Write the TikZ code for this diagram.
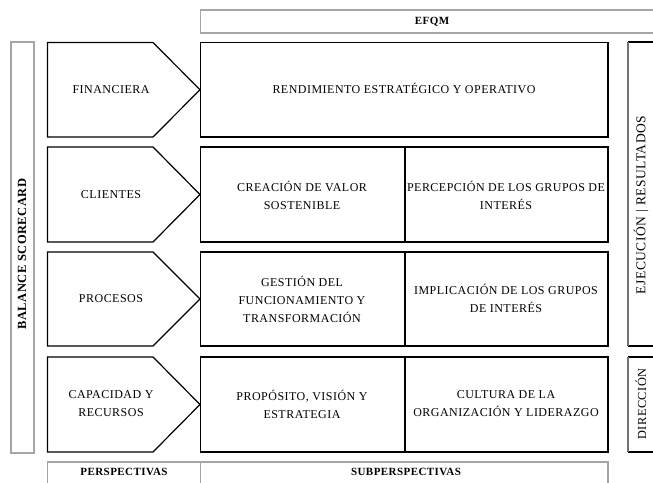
\documentclass[tikz,border=0pt]{standalone}
\usepackage{fontspec}
\setmainfont{Liberation Serif}[LetterSpace=4]
\begin{document}
\begin{tikzpicture}[x=1pt,y=-1pt,
  box/.style={draw=black,line width=1.6pt},
  arr/.style={draw=black,line width=1.2pt,line join=miter},
  gbox/.style={draw=black!35,line width=1.1pt},
  txt/.style={font=\fontsize{12}{18}\selectfont,align=center,inner sep=0pt},
  btxt/.style={font=\fontsize{11}{13}\selectfont\bfseries,align=center,inner sep=0pt},
  rtxt/.style={font=\fontsize{12.3}{14}\selectfont,rotate=90,inner sep=0pt}]
\useasboundingbox (0,0) rectangle (653,482);
\clip (0,0) rectangle (653,482);
% gray frames
\draw[gbox] (11,42) rectangle (34,453);
\draw[gbox] (200.5,10) rectangle (680,33);
\draw[gbox] (47.5,462) rectangle (200.5,500);
\draw[gbox] (200.5,462) rectangle (608,500);
% right column
\draw[line width=1.1pt] (628,42) -- (680,42);
\draw[line width=1.1pt] (628,346) -- (680,346);
\draw[black!55,line width=1.1pt] (628,42) -- (628,346);
\draw[line width=1.1pt] (628,357) -- (680,357);
\draw[line width=1.1pt] (628,452) -- (680,452);
\draw[black!55,line width=1.1pt] (628,357) -- (628,452);
% arrows
\foreach \t/\b in {42.5/137, 147/242, 252/346, 357/452}{
  \path[arr] (47.5,\t) -- (153,\t) -- (200,{(\t+\b)/2}) -- (153,\b) -- (47.5,\b) -- cycle;
}
% main boxes
\draw[box] (200.5,42.5) rectangle (608,137);
\draw[box] (200.5,147) rectangle (608,242);
\draw[box] (200.5,252) rectangle (608,346);
\draw[box] (200.5,357) rectangle (608,452);
\draw[box] (405,147) -- (405,242);
\draw[box] (405,252) -- (405,346);
\draw[box] (405,357) -- (405,452);
% texts
\node[btxt] (efqm) at (432,22) {EFQM};
\node[btxt] (persp) at (124,472) {PERSPECTIVAS};
\node[btxt] (subpersp) at (406,472) {SUBPERSPECTIVAS};
\node[btxt,font=\fontsize{12.5}{14}\selectfont\bfseries,rotate=90] (bsc) at (22,254) {BALANCE SCORECARD};
\node[rtxt,font=\fontsize{13.5}{14}\selectfont] (ejec) at (641,205) {EJECUCIÓN | RESULTADOS};
\node[rtxt] (dir) at (641,404) {DIRECCIÓN};
\node[txt] (fin) at (111,90) {FINANCIERA};
\node[txt] (cli) at (111,195) {CLIENTES};
\node[txt] (pro) at (111,299) {PROCESOS};
\node[txt] (cap) at (111,404) {CAPACIDAD Y\\RECURSOS};
\node[txt] (rend) at (404,88) {RENDIMIENTO ESTRATÉGICO Y OPERATIVO};
\node[txt] (crea) at (302,195) {CREACIÓN DE VALOR\\SOSTENIBLE};
\node[txt] (perc) at (506,195) {PERCEPCIÓN DE LOS GRUPOS DE\\INTERÉS};
\node[txt] (gest) at (302,299) {GESTIÓN DEL\\FUNCIONAMIENTO Y\\TRANSFORMACIÓN};
\node[txt] (impl) at (506,298) {IMPLICACIÓN DE LOS GRUPOS\\DE INTERÉS};
\node[txt] (prop) at (302,404) {PROPÓSITO, VISIÓN Y\\ESTRATEGIA};
\node[txt] (cult) at (506,404) {CULTURA DE LA\\ORGANIZACIÓN Y LIDERAZGO};
\end{tikzpicture}
\end{document}
